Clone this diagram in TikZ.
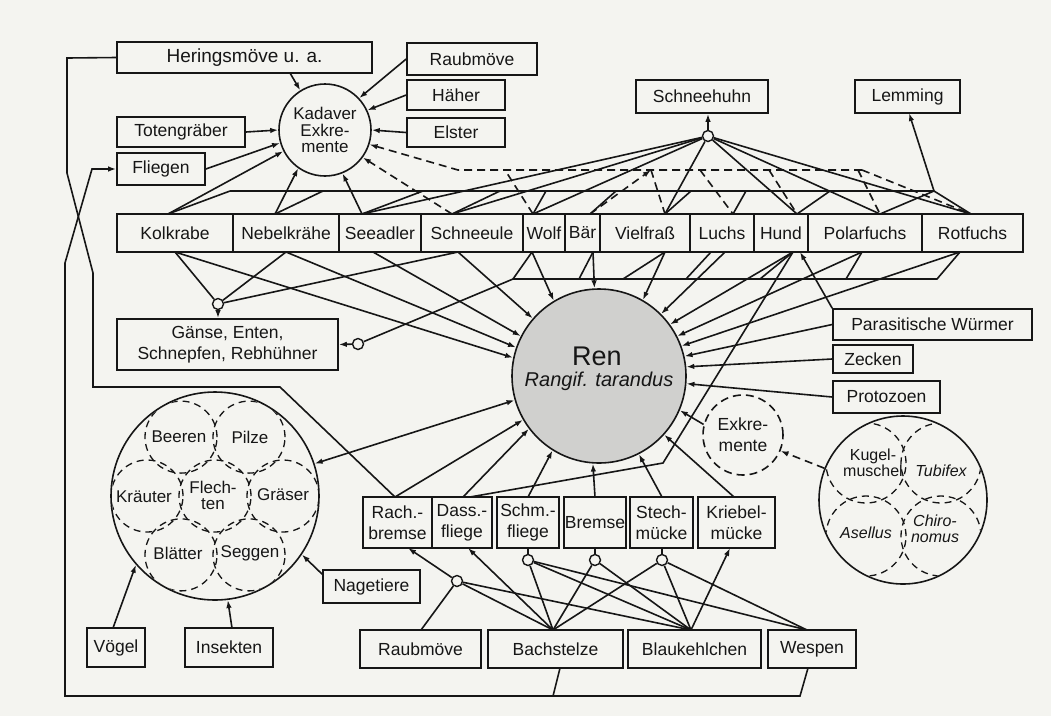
\documentclass[tikz,border=0pt]{standalone}
\usepackage{fontspec}
\setmainfont{Liberation Sans}
\usetikzlibrary{arrows.meta,calc}
\definecolor{bg}{RGB}{244,244,240}
\definecolor{rengray}{RGB}{208,208,206}
\definecolor{ink}{RGB}{22,22,22}
\newcommand{\rbox}[6]{\node[box, minimum width={#4-#2}, minimum height={#5-#3}] (#1) at ({(#2+#4)/2},{(#3+#5)/2}) {#6};}
\begin{document}
\begin{tikzpicture}[x=1pt,y=-1pt,color=ink,line width=1.6pt,
  box/.style={draw=ink, fill=bg, line width=1.6pt, inner sep=0pt, align=center, font=\fontsize{17.5}{21}\selectfont},
  lab/.style={align=center, inner sep=0pt, font=\fontsize{17}{17}\selectfont},
  dot/.style={circle, draw=ink, fill=bg, line width=1.4pt, minimum size=11pt, inner sep=0pt},
  arr/.style={-{Latex[length=8pt,width=5.5pt]}},
  dsh/.style={dash pattern=on 8pt off 5pt},
  idsh/.style={dash pattern=on 7pt off 5pt, line width=1.3pt}]
\fill[bg] (0,0) rectangle (1051,716);
\useasboundingbox (0,0) rectangle (1051,716);

% ---------- boxes ----------
\rbox{hering}{117}{42}{372}{73}{\fontsize{19}{21}\selectfont Heringsmöve u. a.}
\rbox{raubT}{407}{43}{537}{75}{Raubmöve}
\rbox{haeher}{407}{80}{505}{110}{Häher}
\rbox{elster}{407}{118}{505}{147}{Elster}
\rbox{toten}{117}{117}{245}{147}{Totengräber}
\rbox{fliegen}{117}{153}{205}{185}{Fliegen}
\rbox{schneehuhn}{636}{80}{768}{113}{Schneehuhn}
\rbox{lemming}{855}{80}{960}{113}{Lemming}

\rbox{kolk}{117}{214}{233}{252}{Kolkrabe}
\rbox{nebel}{233}{214}{339}{252}{Nebelkrähe}
\rbox{seead}{339}{214}{421}{252}{Seeadler}
\rbox{eule}{421}{214}{523}{252}{Schneeule}
\rbox{wolf}{523}{214}{565}{252}{Wolf}
\rbox{baer}{565}{214}{600}{252}{Bär}
\rbox{vielfrass}{600}{214}{690}{252}{Vielfraß}
\rbox{luchs}{690}{214}{754}{252}{Luchs}
\rbox{hund}{754}{214}{808}{252}{Hund}
\rbox{polar}{808}{214}{922}{252}{Polarfuchs}
\rbox{rotf}{922}{214}{1023}{252}{Rotfuchs}

\rbox{gaense}{117}{319}{338}{370}{Gänse, Enten,\\Schnepfen, Rebhühner}
\rbox{pw}{833}{309}{1032}{340}{Parasitische Würmer}
\rbox{zecken}{833}{345}{913}{373}{Zecken}
\rbox{proto}{833}{381}{940}{413}{Protozoen}

\rbox{rach}{363}{497}{432}{548}{Rach.-\\bremse}
\rbox{dass}{432}{497}{492}{548}{Dass.-\\fliege}
\rbox{schm}{497}{497}{559}{548}{Schm.-\\fliege}
\rbox{bremse}{564}{497}{626}{548}{Bremse}
\rbox{stech}{630}{497}{693}{548}{Stech-\\mücke}
\rbox{kriebel}{698}{497}{775}{548}{Kriebel-\\mücke}

\rbox{nage}{323}{570}{420}{603}{Nagetiere}
\rbox{voegel}{87}{628}{145}{667}{Vögel}
\rbox{insekten}{185}{628}{273}{667}{Insekten}
\rbox{raubB}{360}{630}{481}{668}{Raubmöve}
\rbox{bach}{488}{630}{623}{668}{Bachstelze}
\rbox{blau}{628}{630}{761}{668}{Blaukehlchen}
\rbox{wespen}{768}{630}{856}{668}{Wespen}

% ---------- circles ----------
\node[circle, draw, fill=bg, minimum size=92pt, inner sep=0pt, align=center, font=\fontsize{17}{16.5}\selectfont] (kad) at (325,130) {Kadaver\\Exkre-\\mente};
\node[circle, draw, fill=rengray, minimum size=174pt, inner sep=0pt] (ren) at (599,376) {};
\node[inner sep=0pt, font=\fontsize{27}{28}\selectfont] (rent) at (597,356) {Ren};
\node[inner sep=0pt, font=\itshape\fontsize{20}{22}\selectfont] (renl) at (599,381) {Rangif. tarandus};
\node[circle, draw, dsh, fill=bg, minimum size=80pt, inner sep=0pt, align=center, font=\fontsize{17.5}{21}\selectfont] (exk) at (743,435) {Exkre-\\mente};

\node[circle, draw, fill=bg, minimum size=208pt, inner sep=0pt] (plant) at (215,496) {};
\begin{scope}
\clip (215,496) circle (103pt);
\foreach \a in {0,60,...,300} \draw[idsh] ($(215,496)+(\a:68)$) circle (36pt);
\draw[idsh] (215,496) circle (36pt);
\end{scope}
\node[lab] (tbeeren) at (179,437) {Beeren};
\node[lab] (tpilze) at (250,437) {Pilze};
\node[lab] (tkraeuter) at (144,497) {Kräuter};
\node[lab, font=\fontsize{17}{16}\selectfont] (tflechten) at (213,495) {Flech-\\ten};
\node[lab] (tgraeser) at (283,495) {Gräser};
\node[lab] (tblaetter) at (178,553) {Blätter};
\node[lab] (tseggen) at (250,553) {Seggen};

\node[circle, draw, fill=bg, minimum size=168pt, inner sep=0pt] (aqua) at (903,500) {};
\begin{scope}
\clip (903,500) circle (83pt);
\draw[idsh] (866,463) circle (40pt);
\draw[idsh] (941,463) circle (40pt);
\draw[idsh] (866,536) circle (40pt);
\draw[idsh] (941,536) circle (40pt);
\end{scope}
\node[lab, font=\fontsize{16}{13.5}\selectfont] (tkugel) at (873,463) {Kugel-\\muschel};
\node[lab, font=\itshape\fontsize{16}{16}\selectfont] (ttubifex) at (941,471) {Tubifex};
\node[lab, font=\itshape\fontsize{16}{16}\selectfont] (tasellus) at (866,533) {Asellus};
\node[lab, font=\itshape\fontsize{16}{16}\selectfont] (tchiro) at (935,529) {Chiro-\\nomus};

% ---------- small junction dots ----------
\node[dot] (sS) at (708,136) {};
\node[dot] (sG) at (218,304) {};
\node[dot] (sG2) at (358,344) {};
\node[dot] (c0) at (457,581) {};
\node[dot] (c1) at (528,560) {};
\node[dot] (c2) at (595,560) {};
\node[dot] (c3) at (662,560) {};

% ---------- named points ----------
\coordinate (heringS) at (290,73);
\coordinate (kolkT) at (168,214);  \coordinate (nebelT) at (275,214);
\coordinate (seeT) at (362,214);   \coordinate (eulT) at (452,214);
\coordinate (wolfT) at (533,214);  \coordinate (baerT) at (590,214);
\coordinate (vielT) at (665,214);  \coordinate (luchsT) at (733,214);
\coordinate (hundT) at (797,214);  \coordinate (polarT) at (880,214);
\coordinate (rotT) at (971,214);
\coordinate (kolkB) at (175,252);  \coordinate (nebelB) at (286,252);
\coordinate (seeB) at (373,252);   \coordinate (eulB) at (458,252);
\coordinate (wolfB) at (532,252);  \coordinate (baerB) at (593,252);
\coordinate (vielB) at (665,252);  \coordinate (luchsB) at (725,252);
\coordinate (luchsB2) at (711,252);
\coordinate (hundB) at (793,252);  \coordinate (hundB2) at (800,252);
\coordinate (polarB) at (862,252); \coordinate (rotB) at (960,252);
\coordinate (sL) at (230,191);  \coordinate (sR) at (934,191);
\coordinate (dL) at (458,170);  \coordinate (dR) at (862,170);
\coordinate (h2L) at (513,279); \coordinate (h2R) at (937,279);
\coordinate (lemS) at (909,113);
\coordinate (rachT) at (395,497); \coordinate (dassT) at (463,497);
\coordinate (dassT2) at (470,497); \coordinate (schmT) at (528,497);
\coordinate (bremseT) at (595,497); \coordinate (stechT) at (662,497);
\coordinate (kriebelT) at (734,497);
\coordinate (rachB) at (408,548); \coordinate (dassB) at (468,548);
\coordinate (kriebelB) at (730,548);
\coordinate (raubBT) at (421,630); \coordinate (bachT) at (553,630);
\coordinate (blauT) at (691,630); \coordinate (wespT) at (807,630);
\coordinate (bachB) at (560,668); \coordinate (wespB) at (808,668);
\coordinate (voegelT) at (113,628); \coordinate (insektenT) at (232,628);
\coordinate (hundK) at (663,463);
\coordinate (fa1) at (67,58);  \coordinate (fa2) at (67,173);
\coordinate (fa3) at (93,273); \coordinate (fa4) at (93,387);
\coordinate (fa5) at (280,387);
\coordinate (fb1) at (800,696); \coordinate (fb2) at (65,696);
\coordinate (fb3) at (65,263);  \coordinate (fb4) at (92,169);
\coordinate (fb5) at (553,696);

% ---------- Kadaver ----------
\draw[arr] (heringS) -- (kad.122);
\draw[arr] (raubT.west) -- (kad.43);
\draw[arr] (haeher.west) -- (kad.25);
\draw[arr] (elster.west) -- (kad.0);
\draw[arr] (toten.east) -- (kad.180);
\draw[arr] (fliegen.east) -- (kad.196);
\draw[arr] (kolkT) -- (kad.207);
\draw[arr] (nebelT) -- (kad.235);
\draw[arr] (seeT) -- (kad.292);
\draw[arr,dsh] (eulT) -- (kad.324);
\draw[arr,dsh] (dR) -- (dL) -- (kad.342);

% dashed legs
\draw[dsh] (wolfT) -- (505,170);
\draw[arr,dsh] (baerT) -- (651,170);
\draw[dsh] (651,170) -- (vielT);
\draw[dsh] (700,170) -- (luchsT);
\draw[dsh] (769,170) -- (hundT);
\draw[dsh] (858,170) -- (polarT);
\draw[dsh] (dR) -- (rotT);

% solid line to Lemming
\draw (sL) -- (sR);
\draw[arr] (sR) -- (lemS);
\draw (kolkT) -- (sL);
\draw (nebelT) -- (323,191);
\draw (seeT) -- (423,191);
\draw (eulT) -- (500,191);
\draw (wolfT) -- (546,191);
\draw (baerT) -- (616,191);
\draw (vielT) -- (691,191);
\draw (luchsT) -- (746,191);
\draw (hundT) -- (830,191);
\draw (polarT) -- (sR);
\draw (rotT) -- (sR);

% Schneehuhn
\draw[arr] (sS) -- (sS |- schneehuhn.south);
\foreach \p in {seeT,eulT,wolfT,vielT,hundT,polarT,rotT} \draw (sS) -- (\p);

% ---------- predators to Gaense ----------
\draw (kolkB) -- (sG);
\draw (nebelB) -- (sG);
\draw (eulB) -- (sG);
\draw[arr] (sG) -- (sG |- gaense.north);
\draw (sG2) -- (h2L) -- (h2R) -- (rotB);
\draw[arr] (sG2) -- (gaense.east);
\draw (wolfB) -- (h2L);
\draw (baerB) -- (579,279);
\draw (vielB) -- (623,279);
\draw (luchsB2) -- (686,279);
\draw (hundB) -- (760,279);
\draw (polarB) -- (846,279);

% ---------- to Ren ----------
\draw[arr] (kolkB) -- (ren.168);
\draw[arr] (nebelB) -- (ren.161);
\draw[arr] (seeB) -- (ren.153);
\draw[arr] (eulB) -- (ren.139);
\draw[arr] (wolfB) -- (ren.121);
\draw[arr] (baerB) -- (ren.93);
\draw[arr] (vielB) -- (ren.60);
\draw[arr] (luchsB) -- (ren.45);
\draw[arr] (hundB) -- (ren.36);
\draw[arr] (polarB) -- (ren.27);
\draw[arr] (rotB) -- (ren.20);
\draw[arr] (pw.west) -- (ren.13);
\draw[arr] (zecken.west) -- (ren.6);
\draw[arr] (proto.west) -- (ren.-5);
\draw[arr] (exk.165) -- (ren.-23);
\draw[arr] (pw.north west) -- (hundB2);
\draw (hundB) -- (hundK) -- (dassT2);

\draw[arr] (rachT) -- (ren.210);
\draw[arr] (dassT) -- (ren.217);
\draw[arr] (schmT) -- (ren.238);
\draw[arr] (bremseT) -- (ren.266);
\draw[arr] (stechT) -- (ren.297);
\draw[arr] (kriebelT) -- (ren.318);
\draw[{Latex[length=8pt,width=5.5pt]}-{Latex[length=8pt,width=5.5pt]}] (plant.18) -- (ren.196);

% aquatic -> Exkremente
\draw[arr,dsh] (aqua.158) -- (exk.-23);

% ---------- plant inputs ----------
\draw[arr] (voegelT) -- (plant.221.6);
\draw[arr] (insektenT) -- (plant.277);
\draw[arr] ([yshift=-5pt]nage.north west) -- (plant.326);

% ---------- insects and birds ----------
\draw[arr] (c0) -- (rachB);
\draw (c0) -- (raubBT);
\draw (c0) -- (bachT);
\draw (c0) -- (blauT);
\draw[arr] (bachT) -- (dassB);
\draw (schm.south -| c1) -- (c1);
\draw (bremse.south -| c2) -- (c2);
\draw (stech.south -| c3) -- (c3);
\foreach \p in {bachT,blauT,wespT} \draw (c1) -- (\p);
\foreach \p in {bachT,blauT} \draw (c2) -- (\p);
\foreach \p in {bachT,blauT,wespT} \draw (c3) -- (\p);
\draw[arr] (blauT) -- (kriebelB);

% ---------- frame lines ----------
\draw (hering.west) -- (fa1) -- (fa2) -- (fa3) -- (fa4) -- (fa5) -- (rachT);
\draw[arr] (wespB) -- (fb1) -- (fb2) -- (fb3) -- (fb4) -- (fliegen.west);
\draw (bachB) -- (fb5);
\end{tikzpicture}
\end{document}
